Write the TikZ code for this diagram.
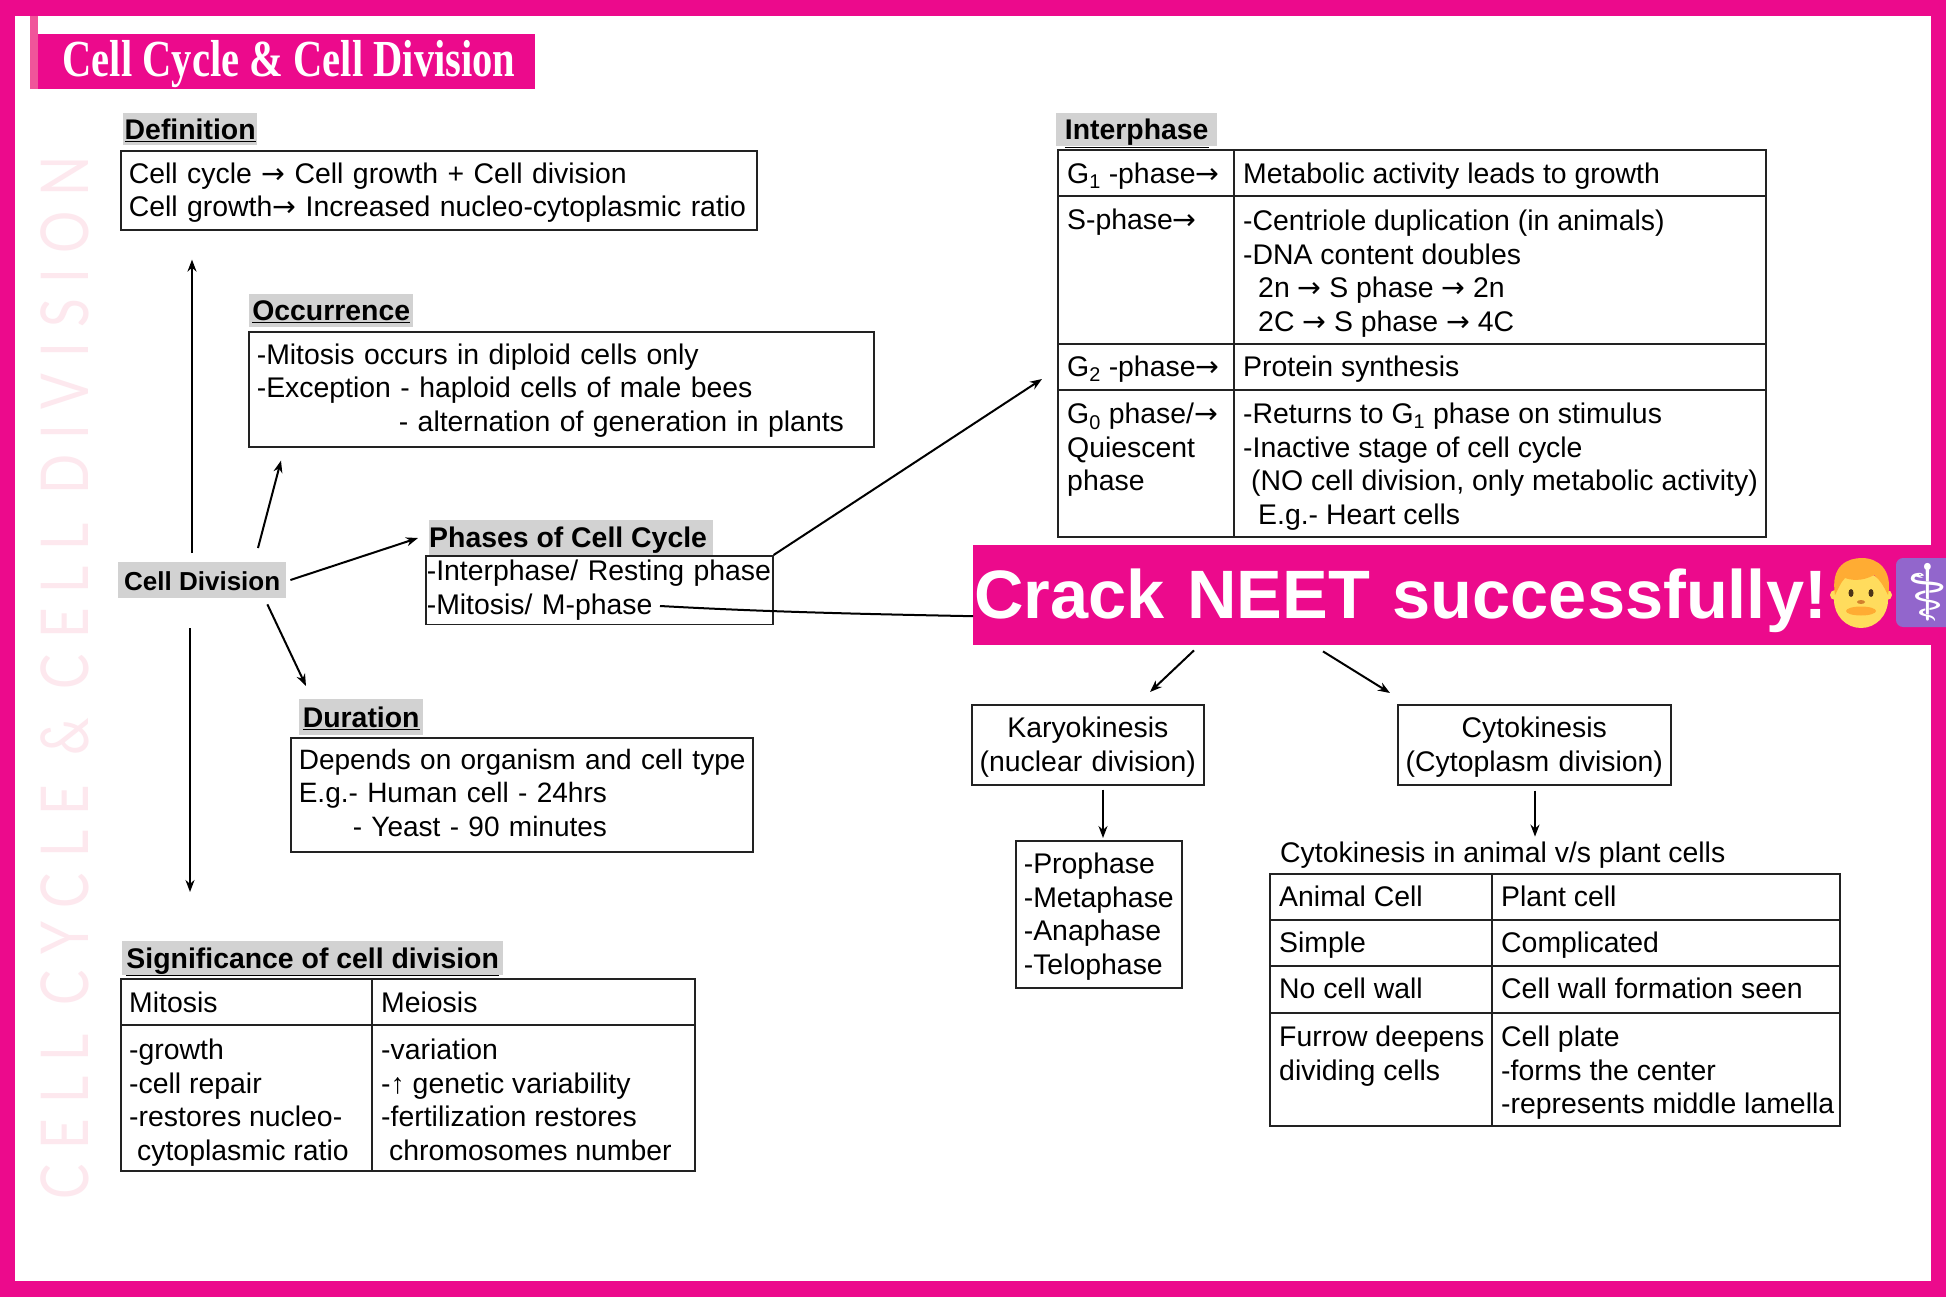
\documentclass[tikz,border=0pt]{standalone}
\usepackage{fontspec}
\usepackage{tikz}
\usetikzlibrary{arrows.meta}
\setmainfont{Liberation Sans}
\newfontfamily\titlefont[FakeStretch=0.78]{Liberation Serif}
\newfontfamily\markfont[LetterSpace=23.2,FakeStretch=0.8]{Lato}
\newfontfamily\symbfont{DejaVu Sans}
\newcommand{\toarr}{{\symbfont→}}
\definecolor{framepink}{HTML}{EC0A8C}
\definecolor{stripink}{HTML}{F0559A}
\definecolor{markpink}{HTML}{FDE8EE}
\definecolor{headgray}{HTML}{D2D2D2}
\definecolor{inkline}{HTML}{222222}
\definecolor{hairorange}{HTML}{FFAC33}
\definecolor{faceyellow}{HTML}{FFDC5D}
\definecolor{badgepurple}{HTML}{9266CC}
\tikzset{
	bodyfont/.style={font=\fontsize{28.4}{33.6}\selectfont},
	box/.style={draw=inkline,line width=1.6pt,bodyfont,align=left,anchor=north west,inner xsep=8pt,inner ysep=0pt,execute at begin node=\rule{0pt}{25pt}},
	cbox/.style={box,align=center},
	heading/.style={fill=headgray,font=\fontsize{28.4}{30}\selectfont\bfseries,anchor=north west,inner sep=0pt,text height=24pt,text depth=4pt},
	celltext/.style={bodyfont,align=left,anchor=north west,inner sep=0pt,yshift=10pt,execute at begin node=\strut},
	cellone/.style={celltext,yshift=4.7pt},
	rule/.style={draw=inkline,line width=1.6pt},
	arrow/.style={draw=black,line width=2pt,-{Stealth[length=12pt,width=9pt]}}
}
\begin{document}
\begin{tikzpicture}[x=1pt,y=-1pt]
	\clip (0,0) rectangle (1946,1297);
	% frame
	\fill[framepink] (0,0) rectangle (1946,1297);
	\fill[white] (15,16) rectangle (1931,1281);
	% title
	\fill[stripink] (30,16) rectangle (38,89);
	\fill[framepink] (38,34) rectangle (535,89);
	\node[text=white,font=\fontsize{52}{54}\titlefont\bfseries,inner sep=0pt] (title) at (289,64) {Cell Cycle \& Cell Division};
	\node[rotate=90,text=markpink,font=\fontsize{66}{70}\markfont,inner sep=0pt] (mark) at (65,678) {CELL CYCLE \& CELL DIVISION};

	% left side
	\node[heading,font=\fontsize{26}{30}\selectfont\bfseries,minimum width=168pt,minimum height=36pt,align=center] (celldiv) at (118,562) {Cell Division};

	\node[heading,minimum width=134pt,minimum height=32pt,align=center] (defhead) at (123,113) {\underline{Definition}};
	\node[box,text width=620pt,minimum height=79pt] (defbox) at (120,150) {Cell cycle \toarr{} Cell growth + Cell division\\Cell growth\toarr{} Increased nucleo-cytoplasmic ratio};

	\node[heading,minimum width=164pt,minimum height=33pt,align=center] (occhead) at (249,294) {\underline{Occurrence}};
	\node[box,text width=609pt,minimum height=115pt] (occbox) at (248,331) {-Mitosis occurs in diploid cells only\\-Exception - haploid cells of male bees\\\hspace*{142pt}- alternation of generation in plants\rule[-8pt]{0pt}{1pt}};

	\node[heading,minimum width=281pt,minimum height=35pt,align=center] (phasehead) at (429,520) {\underline{Phases of Cell Cycle}\hspace{6pt}};
	\node[box,text width=345pt,minimum height=68pt,inner xsep=1pt,execute at begin node=\rule{0pt}{21pt}] (phasebox) at (425,555) {-Interphase/ Resting phase\\-Mitosis/ M-phase\rule[-10pt]{0pt}{1pt}};

	\node[heading,minimum width=124pt,minimum height=36pt,align=center] (durhead) at (299,699) {\underline{Duration}};
	\node[box,font=\fontsize{28}{33.6}\selectfont,text width=446pt,minimum height=114pt] (durbox) at (290,737) {\mbox{Depends on organism and cell type}\\E.g.- Human cell - 24hrs\\\hspace*{54pt}- Yeast - 90 minutes\rule[-9pt]{0pt}{1pt}};

	% significance table
	\node[heading,minimum width=381pt,minimum height=34pt,align=center] (sighead) at (122,941) {\underline{Significance of cell division}};
	\draw[rule] (121,979) rectangle (695,1171);
	\draw[rule] (372,979) -- (372,1171);
	\draw[rule] (121,1025) -- (695,1025);
	\node[cellone] (sigmit) at (129,1003) {Mitosis};
	\node[cellone] (sigmei) at (381,1003) {Meiosis};
	\node[celltext] (sigmita) at (129,1049) {-growth\\-cell repair\\-restores nucleo-\\\hspace*{8pt}cytoplasmic ratio};
	\node[celltext] (sigmeia) at (381,1049) {-variation\\-↑ genetic variability\\-fertilization restores\\\hspace*{8pt}chromosomes number};

	% interphase table
	\node[heading,minimum width=161pt,minimum height=33pt,align=center] (interhead) at (1056,113) {\underline{Interphase}};
	\draw[rule] (1058,150) rectangle (1766,537);
	\draw[rule] (1234,150) -- (1234,537);
	\draw[rule] (1058,196) -- (1766,196);
	\draw[rule] (1058,344) -- (1766,344);
	\draw[rule] (1058,390) -- (1766,390);
	\node[cellone] (gone) at (1067,174) {G\textsubscript{1} -phase\toarr};
	\node[cellone] (goneb) at (1243,174) {Metabolic activity leads to growth};
	\node[cellone] (sph) at (1067,220) {S-phase\toarr};
	\node[celltext] (sphb) at (1243,220) {-Centriole duplication (in animals)\\-DNA content doubles\\\hspace*{15pt}2n \toarr{} S phase \toarr{} 2n\\\hspace*{15pt}2C \toarr{} S phase \toarr{} 4C};
	\node[cellone] (gtwo) at (1067,367) {G\textsubscript{2} -phase\toarr};
	\node[cellone] (gtwob) at (1243,367) {Protein synthesis};
	\node[celltext] (gzero) at (1067,413) {G\textsubscript{0} phase/\toarr\\Quiescent\\phase};
	\node[celltext] (gzerob) at (1243,413) {-Returns to G\textsubscript{1} phase on stimulus\\-Inactive stage of cell cycle\\\hspace*{8pt}(NO cell division, only metabolic activity)\\\hspace*{15pt}E.g.- Heart cells};

	% banner
	\node[fill=framepink,text=white,font=\fontsize{68.5}{72}\selectfont\bfseries,anchor=north west,inner xsep=1pt,inner ysep=0pt,minimum height=100pt,text width=971pt,text height=60pt,text depth=14pt] (banner) at (973,545) {Crack NEET successfully!};
	\fill[faceyellow] (1861,600) ellipse (27 and 28);
	\fill[faceyellow] (1835,595) circle (5);
	\fill[faceyellow] (1887,595) circle (5);
	\fill[hairorange] (1835,595) .. controls (1830,565) and (1848,558) .. (1862,558) .. controls (1878,558) and (1893,570) .. (1888,595) .. controls (1883,585) and (1880,580) .. (1874,575) .. controls (1862,582) and (1850,580) .. (1845,578) .. controls (1840,583) and (1838,590) .. cycle;
	\fill[black!60!brown] (1851,593) ellipse (2.5 and 4);
	\fill[black!60!brown] (1871,593) ellipse (2.5 and 4);
	\fill[brown!70!orange] (1861,602) ellipse (4 and 2);
	\fill[hairorange] (1861,611) ellipse (15 and 4.5);
	\fill[badgepurple,rounded corners=7pt] (1896,558) rectangle (1960,627);
	\node[text=white,font=\fontsize{78}{80}\symbfont,inner sep=0pt] (caduceus) at (1928,592) {\makebox[0pt]{⚕}};

	% karyokinesis and cytokinesis
	\node[cbox,text width=228pt,minimum height=80pt,inner xsep=2pt] (karyo) at (971,704) {Karyokinesis\\(nuclear division)};
	\node[cbox,text width=269pt,minimum height=80pt,inner xsep=2pt] (cyto) at (1397,704) {Cytokinesis\\(Cytoplasm division)};
	\node[box,text width=150pt,minimum height=147pt] (stages) at (1015,840) {-Prophase\\-Metaphase\\-Anaphase\\-Telophase};

	% cytokinesis table
	\node[cellone] (cytocap) at (1280,853) {Cytokinesis in animal v/s plant cells};
	\draw[rule] (1270,874) rectangle (1840,1126);
	\draw[rule] (1492,874) -- (1492,1126);
	\draw[rule] (1270,920) -- (1840,920);
	\draw[rule] (1270,966) -- (1840,966);
	\draw[rule] (1270,1013) -- (1840,1013);
	\node[cellone] (animal) at (1279,897) {Animal Cell};
	\node[cellone] (plant) at (1501,897) {Plant cell};
	\node[cellone] (simple) at (1279,943) {Simple};
	\node[cellone] (compl) at (1501,943) {Complicated};
	\node[cellone] (nowall) at (1279,989) {No cell wall};
	\node[cellone] (wall) at (1501,989) {Cell wall formation seen};
	\node[celltext] (furrow) at (1279,1036) {Furrow deepens\\dividing cells};
	\node[celltext] (cplate) at (1501,1036) {Cell plate\\-forms the center\\-represents middle lamella};

	% connectors
	\draw[arrow] ([shift={(74,-9)}]celldiv.north west) -- ([shift={(72,29)}]defbox.south west);
	\draw[arrow] ([shift={(140,-14)}]celldiv.north west) -- ([shift={(33,13)}]occbox.south west);
	\draw[arrow] ([shift={(4,18)}]celldiv.north east) -- ([shift={(-11,18)}]phasehead.north west);
	\draw[arrow] ([shift={(-19,6)}]celldiv.south east) -- ([shift={(7,-13)}]durhead.north west);
	\draw[arrow] ([shift={(72,30)}]celldiv.south west) -- ([shift={(68,-49)}]sighead.north west);
	\draw[arrow] (phasebox.north east) -- ([shift={(-14,266)}]interhead.north west);
	\draw[line width=2pt] ([shift={(235,51)}]phasebox.north west) .. controls ([shift={(-2,-13)}]phasebox.south east) and ([shift={(100,-11)}]phasebox.south east) .. ([shift={(0,21)}]banner.west);
	\draw[arrow] ([shift={(221,5)}]banner.south west) -- ([shift={(179,-12)}]karyo.north west);
	\draw[arrow] ([shift={(350,6)}]banner.south west) -- ([shift={(-7,-11)}]cyto.north west);
	\draw[arrow] ([shift={(132,4)}]karyo.south west) -- ([shift={(88,-2)}]stages.north west);
	\draw[arrow] ([shift={(138,5)}]cyto.south west) -- ([shift={(138,51)}]cyto.south west);
\end{tikzpicture}
\end{document}
